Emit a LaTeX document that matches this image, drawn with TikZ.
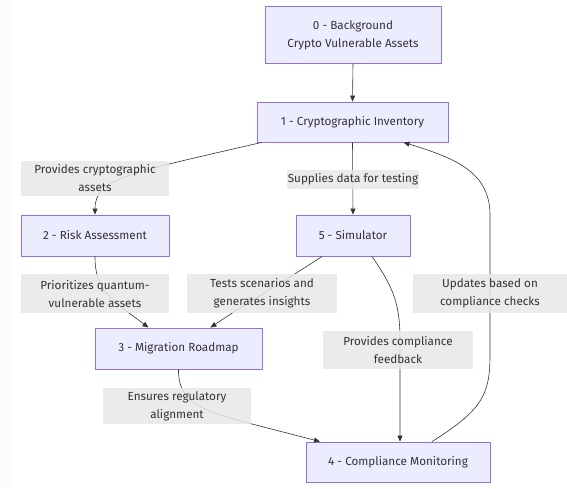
\documentclass[tikz,border=0pt]{standalone}
\usepackage{fontspec}
\setmainfont{Fira Sans}
\usetikzlibrary{arrows.meta}
\definecolor{boxfill}{HTML}{ECECFF}
\definecolor{boxline}{HTML}{9370DB}
\definecolor{labfill}{HTML}{E8E8E8}
\definecolor{ink}{HTML}{333333}
\tikzset{
  stage/.style={draw=boxline, fill=boxfill, line width=0.9pt, text=ink,
    inner sep=0pt, align=center, font=\fontsize{11.7}{18}\selectfont},
  edgelab/.style={fill=labfill, fill opacity=0.85, text opacity=1, text=ink,
    inner sep=0pt, align=center, font=\fontsize{11.7}{18}\selectfont},
  flow/.style={draw=ink, line width=0.6pt, -{Triangle[length=6pt,width=5pt]}},
}
\begin{document}
\begin{tikzpicture}[x=1pt,y=-1pt]
\useasboundingbox (0,0) rectangle (567,488);
\fill[white] (0,0) rectangle (567,488);
\fill[black!1.2] (0,0) rectangle (14,488);

% stages
\node[stage, minimum width=176, minimum height=57] (n0) at (353,35) {0 - Background\\Crypto Vulnerable Assets};
\node[stage, minimum width=191, minimum height=40] (n1) at (352.5,122) {1 - Cryptographic Inventory};
\node[stage, minimum width=148, minimum height=41] (n2) at (95,235.5) {2 - Risk Assessment};
\node[stage, minimum width=114, minimum height=41] (n5) at (353,235.5) {5 - Simulator};
\node[stage, minimum width=167, minimum height=41] (n3) at (178.5,348.5) {3 - Migration Roadmap};
\node[stage, minimum width=184, minimum height=40] (n4) at (398,462) {4 - Compliance Monitoring};

% connectors
\draw[flow] (n0.south) -- (n1.north);
\draw[flow] ([xshift=5]n1.south west) .. controls (130,173) and (95,178) .. (n2.north);
\draw[flow] (n1.south) -- (n5.north);
\draw[flow] (n2.south) .. controls (95,292) and (112,300) .. ([xshift=-30]n3.north);
\draw[flow] ([xshift=-31]n5.south) .. controls (280,284) and (242,306) .. ([xshift=32]n3.north);
\draw[flow] ([xshift=19]n5.south) .. controls (394,288) and (400,305) .. (400,340) -- ([xshift=2]n4.north);
\draw[flow] (n3.south) .. controls (178,402) and (200,410) .. (252,424) -- ([xshift=-78]n4.north);
\draw[flow] ([xshift=34]n4.north) .. controls (482,410) and (490,395) .. (490,355)
  -- (490,215) .. controls (490,172) and (455,158) .. ([xshift=51]n1.south);

% connector labels
\node[edgelab, minimum width=148, minimum height=35] (l12) at (95,178.5) {Provides cryptographic\\assets};
\node[edgelab, minimum width=132, minimum height=19] (l15) at (353,179.5) {Supplies data for testing};
\node[edgelab, minimum width=148, minimum height=39] (l23) at (95,293.5) {Prioritizes quantum-\\vulnerable assets};
\node[edgelab, minimum width=150, minimum height=39] (l53) at (262,293.5) {Tests scenarios and\\generates insights};
\node[edgelab, minimum width=154, minimum height=39] (l41) at (490,293.5) {Updates based on\\compliance checks};
\node[edgelab, minimum width=150, minimum height=38] (l54) at (398,350) {Provides compliance\\feedback};
\node[edgelab, minimum width=148, minimum height=36] (l34) at (177,406) {Ensures regulatory\\alignment};
\end{tikzpicture}
\end{document}
